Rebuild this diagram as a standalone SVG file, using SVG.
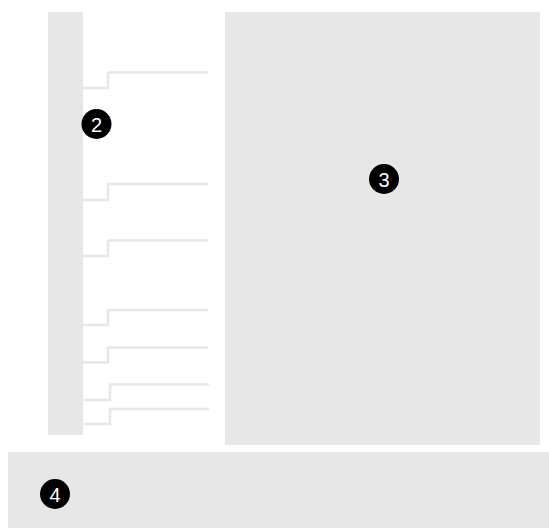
<svg xmlns="http://www.w3.org/2000/svg" width="549" height="528" viewBox="0 0 549 528">
<style>
.box{fill:#e7e7e7;stroke:none}
.conn{fill:none;stroke:#e7e7e7;stroke-width:2.5}
.badge{fill:#000}
.num{fill:#fff;font-family:"Liberation Sans",Arial,sans-serif;font-size:20px;text-anchor:middle;dominant-baseline:central}
</style>
<rect width="549" height="528" fill="#fff"/>
<g id="connectors">
<path class="conn" d="M83,88 H108 V72.5 H208"/>
<path class="conn" d="M83,200 H108 V184 H208"/>
<path class="conn" d="M83,256 H108 V240.5 H208"/>
<path class="conn" d="M83,325 H108 V310 H208"/>
<path class="conn" d="M83,362.5 H108 V347.5 H208"/>
<path class="conn" d="M84,400 H110 V384.5 H209"/>
<path class="conn" d="M84,424 H110 V409 H209"/>
</g>
<g id="node2">
<rect class="box" x="48" y="12" width="35" height="423"/>
<circle class="badge" cx="96.5" cy="124" r="15"/>
<text class="num" x="96.5" y="124.5">2</text>
</g>
<g id="node3">
<rect class="box" x="225" y="12" width="315" height="433"/>
<circle class="badge" cx="384" cy="179" r="15"/>
<text class="num" x="384" y="179.5">3</text>
</g>
<g id="node4">
<rect class="box" x="8" y="452" width="541" height="76"/>
<circle class="badge" cx="55" cy="494" r="15"/>
<text class="num" x="55" y="494.5">4</text>
</g>
</svg>
